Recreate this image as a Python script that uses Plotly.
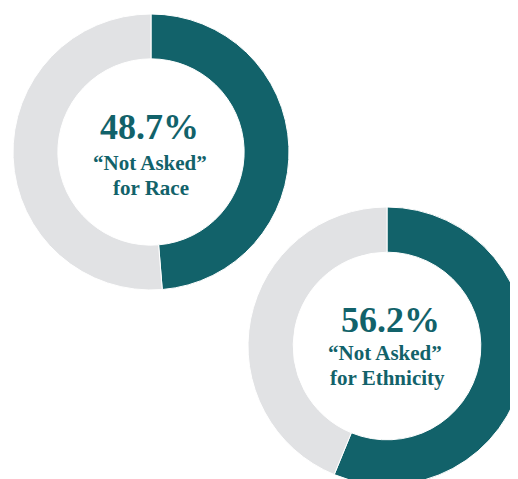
import plotly.graph_objects as go

W, H = 518, 479
OFF = 8  # page body margin

# data
charts = ["Race", "Ethnicity"]
not_asked_pct = [48.7, 56.2]
other_pct = [100 - v for v in not_asked_pct]
pct_labels = ["48.7%", "56.2%"]
caption_line1 = ["“Not Asked”", "“Not Asked”"]
caption_line2 = ["for Race", "for Ethnicity"]

TEAL = "#12626A"
GREY = "#E1E2E4"
FONT = "Liberation Serif"

# donut boxes in screen pixels (left, top, size)
boxes = [(13, 14, 276), (248, 207, 278)]

fig = go.Figure()
for i, name in enumerate(charts):
    left, top, size = boxes[i]
    left -= OFF
    top -= OFF
    x0 = left / W
    x1 = min(1, (left + size) / W)
    y1 = 1 - top / H
    y0 = max(0, 1 - (top + size) / H)
    fig.add_trace(go.Pie(
        values=[not_asked_pct[i], other_pct[i]],
        labels=["Not Asked", "Other"],
        hole=0.675,
        sort=False,
        direction="clockwise",
        rotation=0,
        marker=dict(colors=[TEAL, GREY], line=dict(color="white", width=1)),
        textinfo="none",
        hoverinfo="none",
        showlegend=False,
        domain=dict(x=[x0, x1], y=[y0, y1]),
    ))


def add_text(txt, sx, sy, size):
    px, py = sx - OFF, sy - OFF
    fig.add_annotation(
        x=px / W, y=1 - py / H, xref="paper", yref="paper",
        text="<b>" + txt + "</b>", showarrow=False,
        xanchor="center", yanchor="middle",
        font=dict(family=FONT, size=size, color=TEAL),
    )


# text positions (screen pixel centres)
pct_pos = [(149, 127), (390, 320)]
l1_pos = [(150, 163), (385, 353)]
l2_pos = [(150.5, 187.5), (387.5, 378)]
for i in range(2):
    add_text(pct_labels[i], *pct_pos[i], 36)
    add_text(caption_line1[i], *l1_pos[i], 21)
    add_text(caption_line2[i], *l2_pos[i], 21)

fig.update_layout(
    width=W, height=H,
    margin=dict(l=0, r=0, t=0, b=0),
    paper_bgcolor="white", plot_bgcolor="white",
)

fig.write_html("out.html")
